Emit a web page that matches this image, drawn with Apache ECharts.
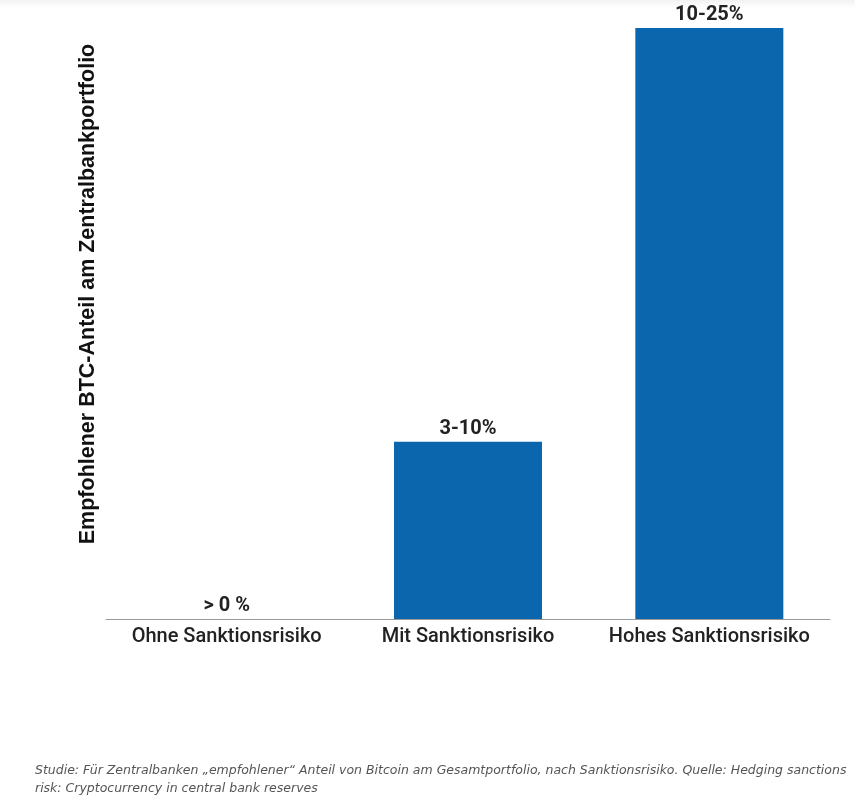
<!DOCTYPE html>
<html>
<head>
<meta charset="utf-8">
<script src="https://cdn.jsdelivr.net/npm/echarts@6/dist/echarts.min.js"></script>
<style>
  html, body { margin: 0; padding: 0; background: #fff; }
  #chart { width: 855px; height: 802px; }
</style>
</head>
<body>
<div id="chart"></div>
<script>
// Daten
const categories = ['Ohne Sanktionsrisiko', 'Mit Sanktionsrisiko', 'Hohes Sanktionsrisiko'];
const values = [0, 3, 10];
const valueLabels = ['> 0 %', '3-10%', '10-25%'];
const yAxisTitle = 'Empfohlener BTC-Anteil am Zentralbankportfolio';
const caption = 'Studie: Für Zentralbanken „empfohlener“ Anteil von Bitcoin am Gesamtportfolio, nach Sanktionsrisiko. Quelle: Hedging sanctions\nrisk: Cryptocurrency in central bank reserves';

const chart = echarts.init(document.getElementById('chart'));
const option = {
    animation: false,
    backgroundColor: '#fff',
    grid: {
        left: 106,
        right: 25,
        top: 28,
        bottom: 183
    },
    xAxis: {
        type: 'category',
        data: categories,
        axisLine: { lineStyle: { color: '#999', width: 1 } },
        axisTick: { show: false },
        axisLabel: {
            interval: 0,
            margin: 8,
            fontFamily: 'Roboto',
            fontWeight: 500,
            fontSize: 20,
            color: '#222'
        }
    },
    yAxis: {
        type: 'value',
        min: 0,
        max: 10,
        axisLine: { show: false },
        axisTick: { show: false },
        axisLabel: { show: false },
        splitLine: { show: false }
    },
    graphic: [
        {
            type: 'rect',
            left: 0, top: 0,
            shape: { width: 855, height: 8 },
            style: {
                fill: new echarts.graphic.LinearGradient(0, 0, 0, 1, [
                    { offset: 0, color: '#f2f2f2' },
                    { offset: 1, color: '#fff' }
                ])
            },
            silent: true
        },
        {
            type: 'text',
            x: 88,
            y: 294,
            rotation: Math.PI / 2,
            style: {
                text: yAxisTitle,
                fontFamily: 'Arial',
                fontWeight: 'bold',
                fontSize: 21.5,
                fill: '#111',
                align: 'center',
                verticalAlign: 'middle'
            }
        },
        {
            type: 'text',
            left: 35,
            top: 762,
            style: {
                text: caption,
                fontFamily: 'DejaVu Sans',
                fontStyle: 'italic',
                fontSize: 12.5,
                lineHeight: 18,
                fill: '#555'
            }
        }
    ],
    series: [{
        type: 'bar',
        data: values,
        barWidth: 148,
        itemStyle: { color: '#0B66AE' },
        label: {
            show: true,
            position: 'top',
            distance: 3,
            fontFamily: 'Roboto',
            fontWeight: 'bold',
            fontSize: 20,
            color: '#222',
            formatter: function (p) {
                return valueLabels[p.dataIndex];
            }
        }
    }]
};
chart.setOption(option);
</script>
</body>
</html>
